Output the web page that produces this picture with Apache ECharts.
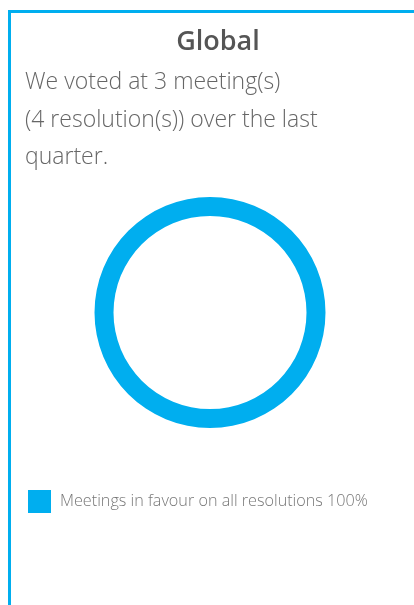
<!DOCTYPE html>
<html><head><meta charset="utf-8">
<script src="https://cdn.jsdelivr.net/npm/echarts@6/dist/echarts.min.js"></script>
<style>html,body{margin:0;padding:0;background:#fff}#c{width:414px;height:605px}</style>
</head><body><div id="c"></div>
<script>
const regionTitle = 'Global';
const summaryLines = ['We voted at 3 meeting(s)', '(4 resolution(s)) over the last', 'quarter.'];
const categories = ['Meetings in favour on all resolutions'];
const values = [100];
const colors = ['#00AEEF'];

const chart = echarts.init(document.getElementById('c'), null, {renderer: 'canvas'});
chart.setOption({
  animation: false,
  title: {
    text: regionTitle, left: 213, top: 24, textAlign: 'center',
    textStyle: {fontFamily: 'Open Sans', fontWeight: 600, fontSize: 27, color: '#555'}
  },
  graphic: [
    {type: 'rect', shape: {x: 8, y: 10, width: 406, height: 3}, style: {fill: '#00AEEF'}},
    {type: 'rect', shape: {x: 8, y: 10, width: 3, height: 595}, style: {fill: '#00AEEF'}},
    {type: 'text', left: 25, top: 64, style: {
      text: summaryLines.join('\n'), fontFamily: 'Open Sans', fontWeight: 300,
      fontSize: 23, lineHeight: 37.5, fill: '#666'
    }}
  ],
  legend: {
    left: 23, top: 485, itemWidth: 23, itemHeight: 23, icon: 'rect', itemGap: 10,
    data: categories,
    formatter: name => name + ' ' + values[categories.indexOf(name)] + '%',
    textStyle: {fontFamily: 'Open Sans', fontWeight: 300, fontSize: 16.2, color: '#777', padding: [0, 0, 0, 4]}
  },
  series: [{
    type: 'pie', center: [210, 312.5], radius: [96.5, 115.5],
    label: {show: false}, labelLine: {show: false}, silent: true,
    data: categories.map((c, i) => ({name: c, value: values[i], itemStyle: {color: colors[i]}}))
  }]
});
</script></body></html>
